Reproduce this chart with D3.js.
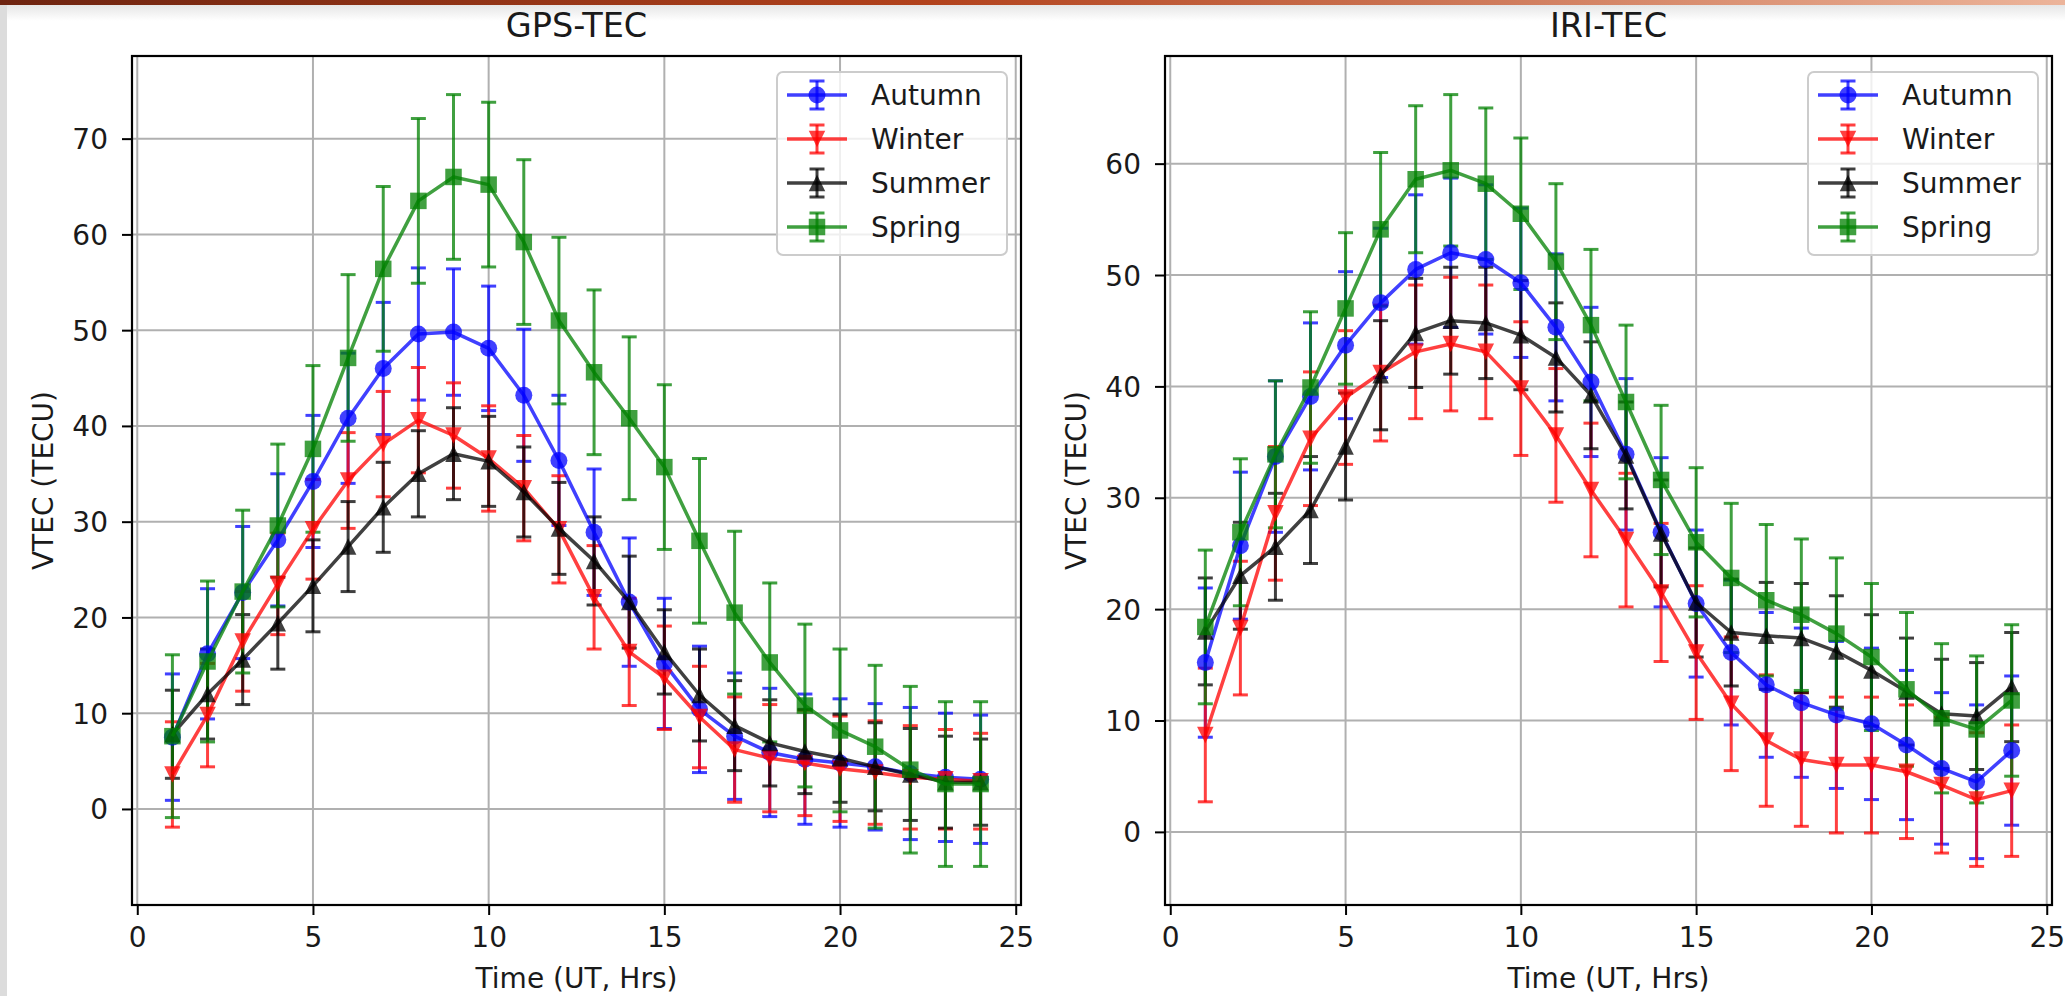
<!DOCTYPE html>
<html>
<head>
<meta charset="utf-8">
<script src="https://cdn.jsdelivr.net/npm/d3@7"></script>
<style>
  body { margin: 0; background: #fff; }
  svg { display: block; }
  text { font-family: "DejaVu Sans", sans-serif; fill: #1a1a1a; }
</style>
</head>
<body>
<svg id="chart" width="2065" height="996"></svg>
<script>
// ---- data: mean VTEC per UT hour and its standard deviation, by season ----
const hours = [1,2,3,4,5,6,7,8,9,10,11,12,13,14,15,16,17,18,19,20,21,22,23,24];
const seasons = ["Autumn", "Winter", "Summer", "Spring"];

// GPS-derived TEC
const gpsAutumn    = [7.5,16.2,22.6,28.1,34.2,40.8,46.0,49.6,49.8,48.1,43.2,36.4,28.9,21.6,15.2,10.4,7.6,5.9,5.2,4.8,4.4,3.7,3.3,3.1];
const gpsAutumnErr = [6.6,6.8,6.9,6.9,6.9,6.8,6.9,6.9,6.6,6.5,6.9,6.8,6.6,6.7,6.8,6.6,6.6,6.7,6.8,6.7,6.6,6.9,6.7,6.7];
const gpsWinter    = [3.6,9.8,17.5,23.5,29.2,34.3,38.1,40.6,39.0,36.6,33.5,29.2,22.1,16.4,13.7,9.6,6.2,5.3,4.8,4.2,3.8,3.3,3.1,2.9];
const gpsWinterErr = [5.5,5.4,5.2,5.3,5.2,5.0,5.5,5.5,5.5,5.5,5.5,5.6,5.4,5.6,5.4,5.3,5.5,5.6,5.5,5.5,5.4,5.4,5.2,5.0];
const gpsSummer    = [7.8,12.0,15.6,19.4,23.3,27.4,31.5,35.0,37.1,36.3,33.1,29.3,25.9,21.6,16.4,11.9,8.7,6.9,6.0,5.3,4.4,3.6,2.8,2.8];
const gpsSummerErr = [4.6,4.7,4.7,4.8,4.8,4.7,4.7,4.5,4.8,4.7,4.7,4.8,4.6,4.8,4.4,4.8,4.7,4.5,4.4,4.6,4.6,4.8,4.8,4.5];
const gpsSpring    = [7.6,15.4,22.7,29.6,37.6,47.1,56.4,63.5,66.0,65.2,59.2,51.0,45.6,40.8,35.7,28.0,20.5,15.3,10.8,8.2,6.5,4.1,2.6,2.6];
const gpsSpringErr = [8.5,8.4,8.5,8.5,8.7,8.7,8.6,8.6,8.6,8.6,8.6,8.7,8.6,8.5,8.6,8.6,8.5,8.3,8.5,8.5,8.5,8.7,8.6,8.6];

// IRI model TEC
const iriAutumn    = [15.2,25.7,33.7,39.1,43.7,47.5,50.5,52.0,51.4,49.3,45.3,40.4,33.9,26.9,20.5,16.1,13.2,11.6,10.5,9.7,7.8,5.7,4.5,7.3];
const iriAutumnErr = [6.7,6.6,6.8,6.6,6.6,6.7,6.7,6.7,6.7,6.7,6.6,6.7,6.8,6.7,6.6,6.5,6.5,6.7,6.6,6.8,6.7,6.8,6.9,6.7];
const iriWinter    = [8.7,18.3,28.6,35.3,39.0,41.2,43.1,43.8,43.1,39.8,35.6,30.7,26.2,21.5,16.1,11.5,8.2,6.5,6.0,6.0,5.4,4.2,2.9,3.7];
const iriWinterErr = [6.0,6.0,6.0,6.0,6.0,6.1,6.0,6.0,6.0,6.0,6.0,6.0,6.0,6.2,6.0,6.0,5.9,6.0,6.1,6.1,6.0,6.1,6.0,5.9];
const iriSummer    = [18.0,23.0,25.6,28.9,34.6,41.0,44.8,45.9,45.7,44.6,42.6,39.2,33.8,26.8,20.6,17.9,17.6,17.4,16.2,14.5,12.6,10.6,10.4,13.0];
const iriSummerErr = [4.8,4.8,4.8,4.8,4.8,4.9,4.9,4.8,5.0,4.9,4.9,4.8,4.8,4.8,4.9,4.8,4.8,4.9,5.0,5.0,4.8,4.9,4.8,4.9];
const iriSpring    = [18.4,26.9,33.9,39.9,47.0,54.1,58.6,59.4,58.2,55.5,51.2,45.5,38.6,31.6,26.0,22.8,20.8,19.5,17.8,15.7,12.8,10.2,9.2,11.8];
const iriSpringErr = [6.9,6.6,6.6,6.8,6.8,6.9,6.6,6.8,6.8,6.8,7.0,6.8,6.9,6.7,6.7,6.7,6.8,6.8,6.8,6.6,6.9,6.7,6.6,6.8];

// axis ticks and labels
const xTicks = [0, 5, 10, 15, 20, 25];
const gpsYTicks = [0, 10, 20, 30, 40, 50, 60, 70];
const iriYTicks = [0, 10, 20, 30, 40, 50, 60];
const xLabel = "Time (UT, Hrs)";
const yLabel = "VTEC (TECU)";

// ---- styling ----
const seasonColor  = { Autumn: "#0000ff", Winter: "#ff0000", Summer: "#000000", Spring: "#008000" };
const seasonMarker = { Autumn: "circle", Winter: "tri-down", Summer: "tri-up", Spring: "square" };
const ALPHA = 0.75;
const FS = 28;          // tick / label font size
const TITLE_FS = 33.5;
const TOP = 56, BOTTOM = 905;

const svg = d3.select("#chart");

// page frame decoration
const defs = svg.append("defs");
const topGrad = defs.append("linearGradient").attr("id", "topbar").attr("x1", "0").attr("x2", "1");
topGrad.append("stop").attr("offset", "0").attr("stop-color", "#6e2410");
topGrad.append("stop").attr("offset", "0.45").attr("stop-color", "#b2421c");
topGrad.append("stop").attr("offset", "1").attr("stop-color", "#ecb49a");
const shadeGrad = defs.append("linearGradient").attr("id", "topshade").attr("x1", "0").attr("x2", "0").attr("y1", "0").attr("y2", "1");
shadeGrad.append("stop").attr("offset", "0").attr("stop-color", "#e6e6e6");
shadeGrad.append("stop").attr("offset", "1").attr("stop-color", "#ffffff");

svg.append("rect").attr("width", 2065).attr("height", 996).attr("fill", "#ffffff");
svg.append("rect").attr("x", 0).attr("y", 5).attr("width", 2065).attr("height", 16).attr("fill", "url(#topshade)");
svg.append("rect").attr("x", 0).attr("y", 0).attr("width", 7).attr("height", 996).attr("fill", "#dcdcdc");
svg.append("rect").attr("x", 0).attr("y", 0).attr("width", 2065).attr("height", 5).attr("fill", "url(#topbar)");

function markerPath(type, s) {
  const h = s / 2;
  switch (type) {
    case "circle":   return d3.symbol(d3.symbolCircle, Math.PI * h * h)();
    case "square":   return `M${-h},${-h}H${h}V${h}H${-h}Z`;
    case "tri-down": return `M0,${h}L${-h},${-h}L${h},${-h}Z`;
    case "tri-up":   return `M0,${-h}L${-h},${h}L${h},${h}Z`;
  }
}

function drawPanel(cfg) {
  const g = svg.append("g");
  const series = seasons.map((name, i) => ({
    name, values: cfg.values[i], errors: cfg.errors[i],
    color: seasonColor[name], marker: seasonMarker[name]
  }));

  // autoscale with 5% margins
  const [xmin, xmax] = d3.extent(hours);
  const xpad = (xmax - xmin) * 0.05;
  const x = d3.scaleLinear().domain([xmin - xpad, xmax + xpad]).range([cfg.left, cfg.right]);
  const lo = d3.min(series, s => d3.min(s.values, (v, i) => v - s.errors[i]));
  const hi = d3.max(series, s => d3.max(s.values, (v, i) => v + s.errors[i]));
  const ypad = (hi - lo) * 0.05;
  const y = d3.scaleLinear().domain([lo - ypad, hi + ypad]).range([BOTTOM, TOP]);

  // grid
  g.append("g").selectAll("line").data(cfg.xTicks).join("line")
    .attr("x1", d => x(d)).attr("x2", d => x(d)).attr("y1", TOP).attr("y2", BOTTOM)
    .attr("stroke", "#b0b0b0").attr("stroke-width", 2);
  g.append("g").selectAll("line").data(cfg.yTicks).join("line")
    .attr("y1", d => y(d)).attr("y2", d => y(d)).attr("x1", cfg.left).attr("x2", cfg.right)
    .attr("stroke", "#b0b0b0").attr("stroke-width", 2);

  // axes via d3-axis
  const xAxis = g.append("g").attr("transform", `translate(0,${BOTTOM})`)
    .call(d3.axisBottom(x).tickValues(cfg.xTicks).tickSize(10).tickPadding(8).tickFormat(d3.format("d")));
  const yAxis = g.append("g").attr("transform", `translate(${cfg.left},0)`)
    .call(d3.axisLeft(y).tickValues(cfg.yTicks).tickSize(10).tickPadding(8).tickFormat(d3.format("d")));
  [xAxis, yAxis].forEach(ax => {
    ax.select(".domain").remove();
    ax.selectAll(".tick line").attr("stroke", "#000").attr("stroke-width", 2);
    ax.selectAll(".tick text").attr("font-size", FS).attr("font-family", "DejaVu Sans").attr("fill", "#1a1a1a");
  });
  xAxis.selectAll(".tick text").attr("dy", null).attr("y", 42);
  yAxis.selectAll(".tick text").attr("dy", null).attr("x", -24).attr("y", 10);

  // error bars (all series), then lines and markers on top
  const eb = g.append("g");
  series.forEach(s => {
    const sg = eb.append("g").attr("stroke", s.color).attr("stroke-width", 3).attr("stroke-opacity", ALPHA);
    hours.forEach((h, i) => {
      const cx = x(h), y0 = y(s.values[i] - s.errors[i]), y1 = y(s.values[i] + s.errors[i]);
      sg.append("line").attr("x1", cx).attr("x2", cx).attr("y1", y0).attr("y2", y1);
      sg.append("line").attr("x1", cx - 7.5).attr("x2", cx + 7.5).attr("y1", y0).attr("y2", y0);
      sg.append("line").attr("x1", cx - 7.5).attr("x2", cx + 7.5).attr("y1", y1).attr("y2", y1);
    });
  });
  const line = d3.line().x((d, i) => x(hours[i])).y(d => y(d));
  series.forEach(s => {
    g.append("path").datum(s.values).attr("d", line)
      .attr("fill", "none").attr("stroke", s.color).attr("stroke-width", 3.5)
      .attr("stroke-opacity", ALPHA).attr("stroke-linejoin", "round");
    g.append("g").selectAll("path").data(s.values).join("path")
      .attr("transform", (d, i) => `translate(${x(hours[i])},${y(d)})`)
      .attr("d", markerPath(s.marker, s.marker === "circle" ? 17 : 16.5))
      .attr("fill", s.color).attr("fill-opacity", ALPHA);
  });

  // spines
  g.append("rect").attr("x", cfg.left).attr("y", TOP)
    .attr("width", cfg.right - cfg.left).attr("height", BOTTOM - TOP)
    .attr("fill", "none").attr("stroke", "#000").attr("stroke-width", 2.2);

  // title and axis labels
  g.append("text").attr("x", (cfg.left + cfg.right) / 2).attr("y", 37)
    .attr("text-anchor", "middle").attr("font-size", TITLE_FS).text(cfg.title);
  g.append("text").attr("x", (cfg.left + cfg.right) / 2).attr("y", BOTTOM + 83)
    .attr("text-anchor", "middle").attr("font-size", FS).text(xLabel);
  g.append("text").attr("transform", `translate(${cfg.left - 79},${(TOP + BOTTOM) / 2}) rotate(-90)`)
    .attr("text-anchor", "middle").attr("font-size", FS).text(yLabel);

  // legend
  const lw = 230, lh = 183;
  const lg = g.append("g").attr("transform", `translate(${cfg.right - 14 - lw},${TOP + 16})`);
  lg.append("rect").attr("width", lw).attr("height", lh).attr("rx", 6)
    .attr("fill", "#fff").attr("fill-opacity", 0.8).attr("stroke", "#cccccc").attr("stroke-width", 2);
  series.forEach((s, i) => {
    const cy = 23 + 44 * i;
    const eg = lg.append("g").attr("stroke", s.color).attr("stroke-opacity", ALPHA);
    eg.append("line").attr("x1", 40).attr("x2", 40).attr("y1", cy - 14).attr("y2", cy + 14).attr("stroke-width", 3);
    eg.append("line").attr("x1", 32.5).attr("x2", 47.5).attr("y1", cy - 14).attr("y2", cy - 14).attr("stroke-width", 3);
    eg.append("line").attr("x1", 32.5).attr("x2", 47.5).attr("y1", cy + 14).attr("y2", cy + 14).attr("stroke-width", 3);
    eg.append("line").attr("x1", 10).attr("x2", 70).attr("y1", cy).attr("y2", cy).attr("stroke-width", 3.5);
    lg.append("path").attr("transform", `translate(40,${cy})`)
      .attr("d", markerPath(s.marker, s.marker === "circle" ? 17 : 16.5))
      .attr("fill", s.color).attr("fill-opacity", ALPHA);
    lg.append("text").attr("x", 94).attr("y", cy + 10).attr("font-size", FS).text(s.name);
  });
}

drawPanel({
  title: "GPS-TEC", left: 132, right: 1021,
  values: [gpsAutumn, gpsWinter, gpsSummer, gpsSpring],
  errors: [gpsAutumnErr, gpsWinterErr, gpsSummerErr, gpsSpringErr],
  xTicks, yTicks: gpsYTicks
});
drawPanel({
  title: "IRI-TEC", left: 1165, right: 2052,
  values: [iriAutumn, iriWinter, iriSummer, iriSpring],
  errors: [iriAutumnErr, iriWinterErr, iriSummerErr, iriSpringErr],
  xTicks, yTicks: iriYTicks
});
</script>
</body>
</html>
